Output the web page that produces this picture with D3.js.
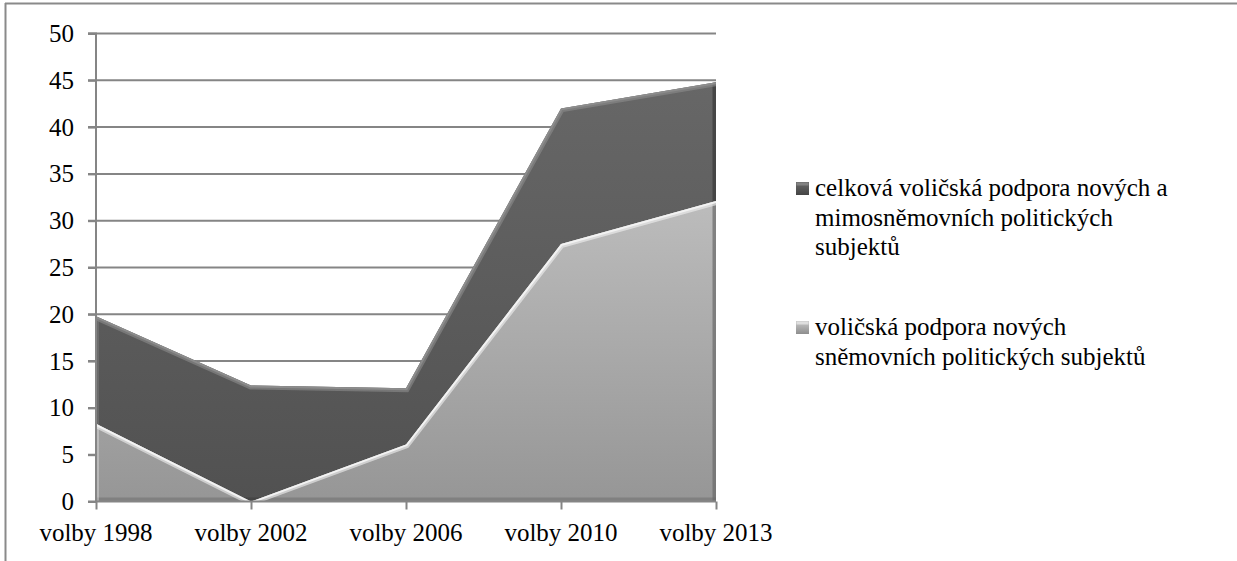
<!DOCTYPE html>
<html>
<head>
<meta charset="utf-8">
<script src="https://cdn.jsdelivr.net/npm/d3@7"></script>
<style>
  html body svg#chart text { font-family: "Liberation Serif", "Times New Roman", serif !important; }
</style>
</head>
<body style="margin:0">
<svg id="chart" width="1237" height="561"></svg>
<script>
const categories = ["volby 1998", "volby 2002", "volby 2006", "volby 2010", "volby 2013"];
const totalSupport = [19.8, 12.4, 12.1, 42.0, 44.8];
const parliamentarySupport = [8.3, 0, 6.1, 27.5, 32.1];
const yTicks = [0, 5, 10, 15, 20, 25, 30, 35, 40, 45, 50];
const legendLabels = [
  "celková voličská podpora nových a", "mimosněmovních politických", "subjektů",
  "voličská podpora nových", "sněmovních politických subjektů"
];
const legendSeries = [0, 0, 0, 1, 1];
const legendLine = [0, 1, 2, 0, 1];

const FONT = '"Liberation Serif"';
const svg = d3.select("#chart");
const W = 1237, H = 561;
const fontSize = 25;

const x = d3.scalePoint().domain(categories).range([96, 716]);
const y = d3.scaleLinear().domain([0, 50]).range([501.5, 33.5]);

// frame
svg.append("line").attr("x1", 5).attr("x2", W).attr("y1", 3.5).attr("y2", 3.5)
  .attr("stroke", "#8a8a8a").attr("stroke-width", 2);
svg.append("line").attr("x1", 5.5).attr("x2", 5.5).attr("y1", 3).attr("y2", H)
  .attr("stroke", "#8a8a8a").attr("stroke-width", 2);

const defs = svg.append("defs");
const gDark = defs.append("linearGradient").attr("id", "gDark")
  .attr("gradientUnits", "userSpaceOnUse").attr("x1", 0).attr("x2", 0)
  .attr("y1", y(45)).attr("y2", y(0));
gDark.append("stop").attr("offset", 0).attr("stop-color", "#676767");
gDark.append("stop").attr("offset", 1).attr("stop-color", "#515151");
const gLight = defs.append("linearGradient").attr("id", "gLight")
  .attr("gradientUnits", "userSpaceOnUse").attr("x1", 0).attr("x2", 0)
  .attr("y1", y(32)).attr("y2", y(0));
gLight.append("stop").attr("offset", 0).attr("stop-color", "#bcbcbc");
gLight.append("stop").attr("offset", 1).attr("stop-color", "#969696");
const lgD = defs.append("linearGradient").attr("id", "legDark").attr("x1", 0).attr("x2", 0).attr("y1", 0).attr("y2", 1);
lgD.append("stop").attr("offset", 0).attr("stop-color", "#6a6a6a");
lgD.append("stop").attr("offset", 1).attr("stop-color", "#444");
const lgL = defs.append("linearGradient").attr("id", "legLight").attr("x1", 0).attr("x2", 0).attr("y1", 0).attr("y2", 1);
lgL.append("stop").attr("offset", 0).attr("stop-color", "#c8c8c8");
lgL.append("stop").attr("offset", 1).attr("stop-color", "#8e8e8e");

// gridlines
svg.append("g").selectAll("line").data(yTicks.filter(d => d > 0)).join("line")
  .attr("x1", 88).attr("x2", 716)
  .attr("y1", d => y(d)).attr("y2", d => y(d))
  .attr("stroke", "#858585").attr("stroke-width", 2);

// areas
const area = d3.area().x((d, i) => x(categories[i])).y0(y(0)).y1(d => y(d));
const line = d3.line().x((d, i) => x(categories[i])).y(d => y(d));

function drawArea(values, id, fill, edge, edgeW, shadow) {
  defs.append("clipPath").attr("id", "clip" + id)
    .append("path").attr("d", area(values));
  svg.append("path").attr("d", area(values)).attr("fill", fill);
  const g = svg.append("g").attr("clip-path", `url(#clip${id})`);
  g.append("line").attr("x1", x(categories[0])).attr("x2", x(categories[4]))
    .attr("y1", y(0)).attr("y2", y(0)).attr("stroke", shadow).attr("stroke-width", 8).attr("opacity", 0.5);
  g.append("line").attr("x1", x(categories[4])).attr("x2", x(categories[4]))
    .attr("y1", y(0)).attr("y2", y(50)).attr("stroke", shadow).attr("stroke-width", 7).attr("opacity", 0.7);
  g.append("line").attr("x1", x(categories[0])).attr("x2", x(categories[0]))
    .attr("y1", y(0)).attr("y2", y(50)).attr("stroke", edge).attr("stroke-width", 6).attr("opacity", 0.35);
  g.append("path").attr("d", line(values)).attr("fill", "none")
    .attr("stroke", edge).attr("stroke-width", edgeW * 2).attr("opacity", 0.6);
  g.append("path").attr("d", line(values)).attr("fill", "none")
    .attr("stroke", edge).attr("stroke-width", edgeW);
}
drawArea(totalSupport, "dark", "url(#gDark)", "#8c8c8c", 4, "#3a3a3a");
drawArea(parliamentarySupport, "light", "url(#gLight)", "#f2f2f2", 4, "#6a6a6a");

// axes (lines and ticks only)
const yAxis = svg.append("g").attr("transform", "translate(96,0)")
  .call(d3.axisLeft(y).tickValues(yTicks).tickSize(8).tickFormat(""));
const xAxis = svg.append("g").attr("transform", `translate(0,${y(0)})`)
  .call(d3.axisBottom(x).tickSize(8).tickFormat(""));
[yAxis, xAxis].forEach(a => {
  a.select(".domain").attr("stroke", "#858585").attr("stroke-width", 2);
  a.selectAll(".tick line").attr("stroke", "#858585").attr("stroke-width", 2);
  a.selectAll(".tick text").remove();
});
yAxis.select(".domain").attr("d", `M-8,${y(50)}H0V${y(0)}`);
xAxis.select(".domain").attr("d", `M${x(categories[0]) - 8},0H${x(categories[4])}`);

// legend markers
const legendY = [196, 335];
const legendFill = ["url(#legDark)", "url(#legLight)"];
const legendStroke = ["#8a8a8a", "#e6e6e6"];
svg.selectAll("rect.mk").data(legendY).join("rect").attr("class", "mk")
  .attr("x", 796).attr("y", d => d - 14).attr("width", 13).attr("height", 13)
  .attr("fill", (d, i) => legendFill[i]);
svg.selectAll("rect.mkh").data(legendY).join("rect").attr("class", "mkh")
  .attr("x", 796.5).attr("y", d => d - 13.5).attr("width", 12).attr("height", 3)
  .attr("fill", (d, i) => legendStroke[i]).attr("opacity", 0.8);

function serif(sel) {
  sel.attr("font-size", fontSize).attr("font-family", FONT)
    .style("font-family", '"Liberation Serif", "Times New Roman", serif', "important");
}

// texts directly on the svg root
svg.selectAll("text.yl").data(yTicks).join("text").attr("class", "yl")
  .attr("x", 74).attr("y", d => y(d) + 8.5)
  .attr("text-anchor", "end")
  .call(serif)
  .text(d => d);
svg.selectAll("text.xl").data(categories).join("text").attr("class", "xl")
  .attr("x", d => x(d)).attr("y", 541)
  .attr("text-anchor", "middle")
  .call(serif)
  .text(d => d);
svg.selectAll("text.lg").data(legendLabels).join("text").attr("class", "lg")
  .attr("x", 815).attr("y", (d, i) => legendY[legendSeries[i]] + legendLine[i] * 29.5)
  .call(serif)
  .text(d => d);
</script>
</body>
</html>
